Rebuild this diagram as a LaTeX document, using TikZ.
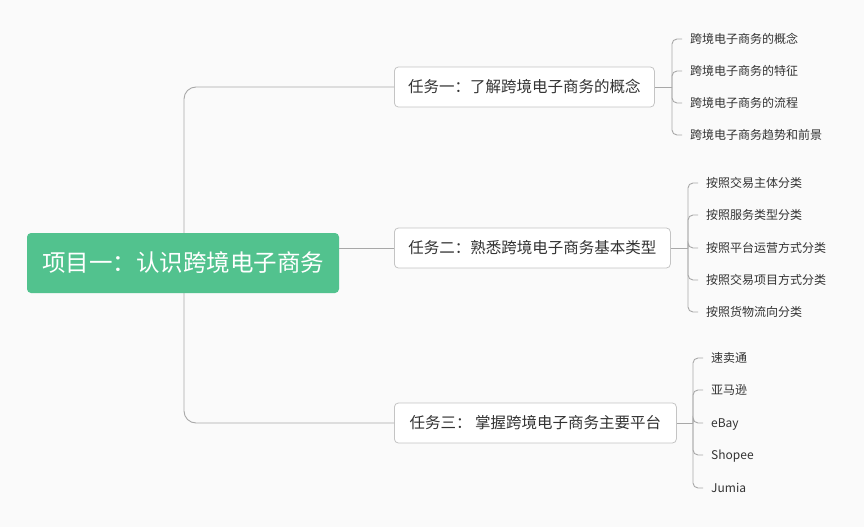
\documentclass[tikz,border=0pt]{standalone}
\usepackage{fontspec}
\setmainfont{Noto Sans CJK SC}
\usetikzlibrary{calc}
\definecolor{bg}{HTML}{FAFAFA}
\definecolor{rootgreen}{HTML}{52C28E}
\definecolor{connc}{HTML}{A8A8A8}
\definecolor{boxline}{HTML}{C4C4C4}
\definecolor{txt}{HTML}{333333}
\begin{document}
\begin{tikzpicture}[x=1pt,y=-1pt,
  rootbox/.style={fill=rootgreen, rounded corners=4pt, text=white,
    font=\fontsize{23.5}{28}\selectfont, minimum width=312pt, minimum height=60pt, inner sep=0pt},
  taskbox/.style={draw=boxline, fill=white, rounded corners=4pt, text=txt,
    font=\fontsize{15.5}{18}\selectfont, minimum height=40pt, inner sep=0pt, anchor=west, line width=0.8pt},
  leaf/.style={anchor=west, text=txt, font=\fontsize{12}{14}\selectfont, inner xsep=8pt, inner ysep=0pt,
    text height=10.5pt, text depth=1.5pt},
  link/.style={draw=connc, line width=0.9pt},
  bracket/.style={link, rounded corners=5pt},
  trunk/.style={link, rounded corners=12pt}]
\fill[bg] (0,0) rectangle (864,527);
\useasboundingbox (0,0) rectangle (864,527);

% task nodes
\node[taskbox, minimum width=260pt] (t1) at (394,87) {任务一：了解跨境电子商务的概念};
\node[taskbox, minimum width=276pt] (t2) at (394,248) {任务二：熟悉跨境电子商务基本类型};
\node[taskbox, minimum width=282pt] (t3) at (394,423) {任务三： 掌握跨境电子商务主要平台};

% trunk from root
\coordinate (rj) at (184,248);
\draw[trunk] (rj) |- (t1.west);
\draw[trunk] (rj) |- (t3.west);

% root
\node[rootbox] (root) at (183,263) {项目一：认识跨境电子商务};
\draw[link] (root.east |- t2.west) -- (t2.west);

% leaves of task 1
\coordinate (b1) at (672,87);
\node[leaf] (l11) at (682,39) {跨境电子商务的概念};
\node[leaf] (l12) at (682,71) {跨境电子商务的特征};
\node[leaf] (l13) at (682,103) {跨境电子商务的流程};
\node[leaf] (l14) at (682,135) {跨境电子商务趋势和前景};
\draw[link] (t1.east) -- (b1);
\foreach \n in {l11,l12,l13,l14} \draw[bracket] (b1) |- (\n.west);

% leaves of task 2
\coordinate (b2) at (688,248);
\node[leaf] (l21) at (698,183) {按照交易主体分类};
\node[leaf] (l22) at (698,215) {按照服务类型分类};
\node[leaf] (l23) at (698,248) {按照平台运营方式分类};
\node[leaf] (l24) at (698,280) {按照交易项目方式分类};
\node[leaf] (l25) at (698,312) {按照货物流向分类};
\draw[link] (t2.east) -- (b2);
\foreach \n in {l21,l22,l23,l24,l25} \draw[bracket] (b2) |- (\n.west);

% leaves of task 3
\coordinate (b3) at (693,423);
\node[leaf] (l31) at (703,358) {速卖通};
\node[leaf] (l32) at (703,390) {亚马逊};
\node[leaf] (l33) at (703,423) {eBay};
\node[leaf] (l34) at (703,455) {Shopee};
\node[leaf] (l35) at (703,488) {Jumia};
\draw[link] (t3.east) -- (b3);
\foreach \n in {l31,l32,l33,l34,l35} \draw[bracket] (b3) |- (\n.west);
\end{tikzpicture}
\end{document}
